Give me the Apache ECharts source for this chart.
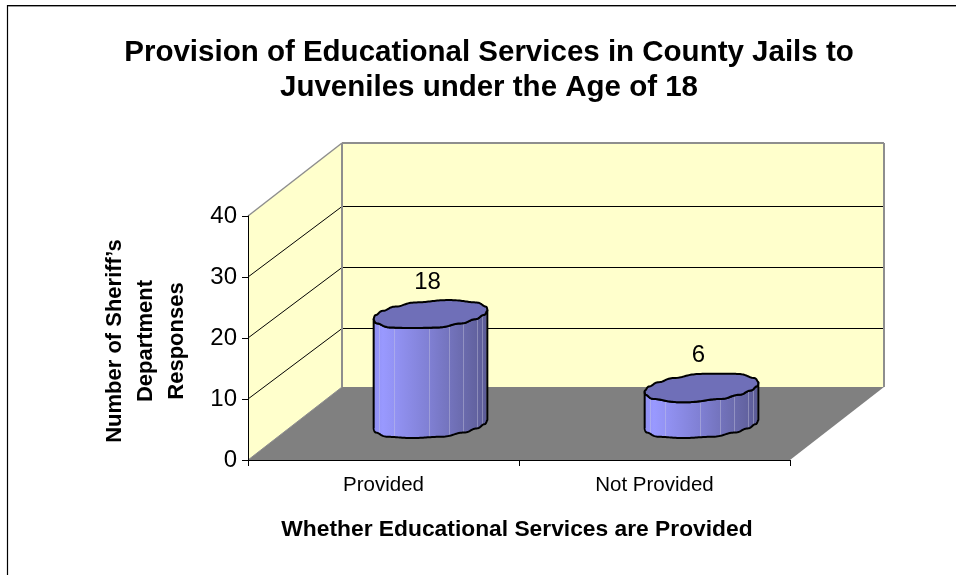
<!DOCTYPE html>
<html>
<head>
<meta charset="utf-8">
<style>html,body{margin:0;padding:0;background:#fff}#chart{width:956px;height:575px}</style>
<script src="https://cdn.jsdelivr.net/npm/echarts@6/dist/echarts.min.js"></script>
</head>
<body>
<div id="chart"></div>
<script>
const titleText = 'Provision of Educational Services in County Jails to\nJuveniles under the Age of 18';
const categories = ['Provided', 'Not Provided'];
const responses = [18, 6];
const yTicks = [0, 10, 20, 30, 40];
const yAxisTitle = 'Number of Sheriff\u2019s\nDepartment\nResponses';
const xAxisTitle = 'Whether Educational Services are Provided';

// Oblique projection: how far the back of the floor sits from the front edge, in pixels.
const DEPTH_X = 94, DEPTH_Y = -73, GRID_DEPTH_Y = -71;
const FONT = '"Liberation Sans", Arial, sans-serif';
const WALL = '#FFFFCC', FLOOR = '#808080', EDGE = '#8E8E8E';

const back = p => [p[0] + DEPTH_X, p[1] + DEPTH_Y];
const crisp = v => Math.round(v) + 0.5;

// Floor, side wall, back wall and their gridlines, all taken from the value axis.
function renderWalls(params, api) {
  const cs = params.coordSys;
  const l = cs.x, r = cs.x + cs.width, y0 = api.coord([0, 0])[1], yTop = api.coord([0, 40])[1];
  const fl = [l, y0], fr = [r, y0], tl = [l, yTop];
  const bfl = back(fl), bfr = back(fr), btl = back(tl), btr = back([r, yTop]);
  const poly = (points, fill) => ({type: 'polygon', shape: {points}, style: {fill}});
  const line = (a, b, stroke, lineWidth) => ({
    type: 'line', shape: {x1: a[0], y1: a[1], x2: b[0], y2: b[1]}, style: {stroke, lineWidth}
  });
  const children = [
    poly([tl, btl, bfl, fl], WALL),
    poly([btl, btr, bfr, bfl], WALL),
    poly([fl, fr, bfr, bfl], FLOOR)
  ];
  yTicks.filter(v => v > 0 && v < 40).forEach(v => {
    const p = [l, api.coord([0, v])[1]];
    const q = [l + DEPTH_X, crisp(p[1] + GRID_DEPTH_Y)];
    children.push(line(p, q, '#000', 1), line(q, [q[0] + cs.width, q[1]], '#000', 1));
  });
  children.push(
    line(tl, btl, EDGE, 1.5), line(btl, btr, EDGE, 2), line(btr, bfr, EDGE, 2),
    line(btl, bfl, EDGE, 2), line(bfl, fl, EDGE, 1)
  );
  return {type: 'group', children};
}

// Outline wobble of the low-resolution cylinder facets: flattens the curve in small steps.
const STEP = 4.2;
const wobble = y => y - (STEP / (2 * Math.PI)) * 0.8 * Math.sin(2 * Math.PI * y / STEP);

// Ellipse the circular base makes once it is sheared onto the floor.
const RX = 53.8, RD = 0.195;
function rim(cx, cy, t) {
  const s = Math.sin(t), c = Math.cos(t);
  return [cx + RX * c + RD * DEPTH_X * s, wobble(cy + RD * DEPTH_Y * s)];
}
const T_SIL = Math.atan2(RD * DEPTH_X, RX);

function renderCylinder(params, api) {
  const base = api.coord([api.value(0), 0]);
  const top = api.coord([api.value(0), api.value(1)]);
  const cx = base[0] + DEPTH_X * 0.5, cyBase = base[1] + DEPTH_Y * 0.5 + 0.7;
  const cyTop = cyBase - (base[1] - top[1]);

  // Near half of the base, right silhouette round to the left one, then back along the top rim.
  const N = 120, front = [], topFront = [], ring = [];
  for (let i = 0; i <= N; i++) {
    front.push(rim(cx, cyBase, T_SIL - i / N * Math.PI));
    topFront.push(rim(cx, cyTop, T_SIL - Math.PI + i / N * Math.PI));
  }
  for (let i = 0; i < N * 2; i++) {
    ring.push(rim(cx, cyTop, i / (N * 2) * Math.PI * 2));
  }
  const wall = front.concat(topFront);

  const halfW = Math.hypot(RX, RD * DEPTH_X);
  const xL = cx - halfW, xR = cx + halfW;
  const side = {
    type: 'linear', x: 0, y: 0, x2: 1, y2: 0,
    colorStops: [
      {offset: 0, color: '#8F8FF0'}, {offset: 0.08, color: '#9999FF'},
      {offset: 0.5, color: '#7F7FD2'}, {offset: 0.8, color: '#6A6AAC'}, {offset: 1, color: '#5B5B95'}
    ]
  };
  // Faint seams between the facets of the side surface.
  const seams = [0.05, 0.175, 0.49, 0.665, 0.79, 0.91, 0.95, 0.985].map(f => {
    const x = Math.round(xL + f * (xR - xL)) + 0.5;
    const yFor = pts => pts.reduce((b, p) => Math.abs(p[0] - x) < Math.abs(b[0] - x) ? p : b)[1];
    return {
      type: 'line',
      shape: {x1: x, y1: yFor(topFront), x2: x, y2: yFor(front)},
      style: {stroke: 'rgba(205,205,225,0.4)', lineWidth: 1}
    };
  });
  return {
    type: 'group',
    children: [
      {type: 'polygon', shape: {points: wall}, style: {fill: side}},
      ...seams,
      {type: 'polygon', shape: {points: wall}, style: {fill: 'none', stroke: '#000', lineWidth: 2, lineJoin: 'round'}},
      {type: 'polygon', shape: {points: ring}, style: {fill: '#6F6FB8', stroke: '#000', lineWidth: 2, lineJoin: 'round'}},
      {
        type: 'text',
        style: {
          x: cx - 3, y: cyTop - 32, text: String(api.value(1)),
          font: '24px ' + FONT, fill: '#000', align: 'center', verticalAlign: 'middle'
        }
      }
    ]
  };
}

const chart = echarts.init(document.getElementById('chart'), null, {renderer: 'canvas'});
chart.setOption({
  animation: false,
  backgroundColor: '#fff',
  title: {
    text: titleText,
    left: 484, top: 30, textAlign: 'center',
    textStyle: {fontFamily: FONT, fontWeight: 'bold', fontSize: 29.5, lineHeight: 35, color: '#000'}
  },
  graphic: [
    {
      type: 'polyline', silent: true, z: -1,
      shape: {points: [[7.5, 575], [7.5, 5.5], [956, 5.5]]},
      style: {fill: 'none', stroke: '#000', lineWidth: 1.2}
    },
    {
      type: 'line', silent: true, z: -1,
      shape: {x1: 8, y1: 6.5, x2: 956, y2: 6.5},
      style: {stroke: '#9A9A9A', lineWidth: 1}
    }
  ],
  grid: {left: 248, right: 166, top: 216, bottom: 115},
  xAxis: {
    type: 'category', data: categories, z: 3,
    axisLine: {lineStyle: {color: '#000', width: 1}},
    axisTick: {show: true, alignWithLabel: false, length: 6, lineStyle: {color: '#000'}},
    axisLabel: {fontFamily: FONT, fontSize: 20.5, color: '#000', margin: 15},
    name: xAxisTitle, nameLocation: 'middle', nameGap: 58,
    nameTextStyle: {fontFamily: FONT, fontWeight: 'bold', fontSize: 22.8, color: '#000', padding: [0, 4, 0, 0]}
  },
  yAxis: {
    type: 'value', min: 0, max: 40, interval: 10, z: 3,
    axisLine: {show: true, lineStyle: {color: '#000', width: 1}},
    axisTick: {show: true, length: 6, lineStyle: {color: '#000'}},
    axisLabel: {fontFamily: FONT, fontSize: 24, color: '#000', margin: 11},
    splitLine: {show: false},
    name: yAxisTitle, nameLocation: 'middle', nameRotate: 90, nameGap: 56,
    nameTextStyle: {fontFamily: FONT, fontWeight: 'bold', fontSize: 22, lineHeight: 31, color: '#000', align: 'center', padding: [0, 6, 0, 0]}
  },
  series: [
    {type: 'custom', name: 'Walls', z: 1, silent: true, clip: false, renderItem: renderWalls, data: [[0, 0]], encode: {x: 0, y: 1}},
    {type: 'custom', name: 'Responses', z: 4, clip: false, renderItem: renderCylinder,
     data: categories.map((c, i) => [i, responses[i]]), encode: {x: 0, y: 1}}
  ]
});
</script>
</body>
</html>
